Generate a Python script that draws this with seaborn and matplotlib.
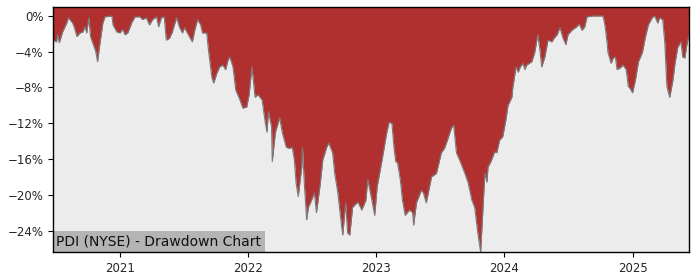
import matplotlib
matplotlib.use("Agg")
import matplotlib.pyplot as plt
import numpy as np
import pandas as pd
import seaborn as sns

dates = [
    "2020-06-24", "2020-07-04", "2020-07-07", "2020-07-12", "2020-07-21", "2020-08-02",
    "2020-08-07", "2020-08-19", "2020-08-24", "2020-08-31", "2020-09-09", "2020-09-17",
    "2020-09-23", "2020-09-28", "2020-10-04", "2020-10-09", "2020-10-15", "2020-10-24",
    "2020-10-29", "2020-11-05", "2020-11-13", "2020-11-19", "2020-12-09", "2020-12-12",
    "2020-12-23", "2021-01-01", "2021-01-09", "2021-01-15", "2021-01-23", "2021-02-04",
    "2021-02-13", "2021-02-27", "2021-03-06", "2021-03-17", "2021-03-26", "2021-04-04",
    "2021-04-15", "2021-04-21", "2021-04-29", "2021-05-07", "2021-05-13", "2021-05-22",
    "2021-05-30", "2021-06-11", "2021-06-20", "2021-06-28", "2021-07-04", "2021-07-12",
    "2021-07-26", "2021-08-02", "2021-08-10", "2021-08-19", "2021-08-24", "2021-09-05",
    "2021-09-11", "2021-09-20", "2021-09-25", "2021-10-04", "2021-10-12", "2021-10-21",
    "2021-10-29", "2021-11-05", "2021-11-10", "2021-11-19", "2021-11-27", "2021-12-09",
    "2021-12-17", "2021-12-28", "2022-01-04", "2022-01-12", "2022-01-21", "2022-01-29",
    "2022-02-10", "2022-02-19", "2022-02-24", "2022-02-28", "2022-03-09", "2022-03-11",
    "2022-03-20", "2022-04-01", "2022-04-09", "2022-04-20", "2022-04-29", "2022-05-07",
    "2022-05-13", "2022-05-18", "2022-05-24", "2022-06-03", "2022-06-05", "2022-06-11",
    "2022-06-17", "2022-06-22", "2022-07-01", "2022-07-09", "2022-07-15", "2022-07-26",
    "2022-08-02", "2022-08-13", "2022-08-19", "2022-08-30", "2022-09-05", "2022-09-14",
    "2022-09-25", "2022-09-28", "2022-10-06", "2022-10-12", "2022-10-18", "2022-10-26",
    "2022-11-10", "2022-11-21", "2022-12-03", "2022-12-08", "2022-12-20", "2022-12-28",
    "2023-01-04", "2023-01-18", "2023-01-31", "2023-02-07", "2023-02-15", "2023-02-21",
    "2023-02-26", "2023-03-03", "2023-03-11", "2023-03-17", "2023-03-25", "2023-04-06",
    "2023-04-15", "2023-04-18", "2023-04-26", "2023-05-10", "2023-05-16", "2023-05-24",
    "2023-06-08", "2023-06-22", "2023-07-06", "2023-07-15", "2023-07-23", "2023-08-04",
    "2023-08-10", "2023-08-18", "2023-08-30", "2023-09-11", "2023-09-20", "2023-10-01",
    "2023-10-09", "2023-10-18", "2023-10-26", "2023-11-01", "2023-11-07", "2023-11-13",
    "2023-11-16", "2023-11-24", "2023-12-05", "2023-12-11", "2023-12-19", "2023-12-28",
    "2024-01-06", "2024-01-12", "2024-01-23", "2024-01-26", "2024-02-04", "2024-02-10",
    "2024-02-16", "2024-02-24", "2024-02-29", "2024-03-05", "2024-03-20", "2024-03-28",
    "2024-04-06", "2024-04-12", "2024-04-17", "2024-04-26", "2024-05-05", "2024-05-16",
    "2024-05-22", "2024-05-31", "2024-06-08", "2024-06-17", "2024-06-25", "2024-07-01",
    "2024-07-12", "2024-07-26", "2024-08-02", "2024-08-10", "2024-08-18", "2024-08-24",
    "2024-09-11", "2024-10-09", "2024-10-15", "2024-10-21", "2024-10-23", "2024-11-01",
    "2024-11-07", "2024-11-13", "2024-11-18", "2024-11-27", "2024-12-05", "2024-12-14",
    "2024-12-20", "2024-12-25", "2025-01-01", "2025-01-09", "2025-01-18", "2025-01-29",
    "2025-02-07", "2025-02-15", "2025-02-26", "2025-03-05", "2025-03-14", "2025-03-19",
    "2025-03-28", "2025-04-03", "2025-04-09", "2025-04-17", "2025-04-26", "2025-05-02",
    "2025-05-10", "2025-05-19", "2025-05-24", "2025-05-30", "2025-06-05", "2025-06-11",
]

drawdown_pct = [
    -2.7, -2.9, -2.1, -3.0, -1.8, -0.8,
    -0.2, -0.8, -1.3, -2.3, -1.9, -1.8,
    -1.2, -1.9, -0.2, -2.3, -3.0, -4.0,
    -5.1, -3.0, -0.8, -0.1, 0.0, -1.0,
    -1.8, -1.9, -1.5, -2.1, -1.9, -0.7,
    -0.1, -0.1, -0.4, -0.2, -1.0, -0.4,
    -0.1, -1.2, -0.2, -0.1, -2.7, -2.5,
    -1.8, -0.2, -1.3, -1.9, -1.3, -1.9,
    -2.9, -1.6, -0.4, -1.0, -1.9, -1.9,
    -4.1, -6.9, -7.5, -6.4, -5.7, -5.5,
    -6.0, -4.9, -4.6, -5.7, -8.3, -9.4,
    -10.3, -10.2, -8.8, -5.7, -9.1, -8.8,
    -9.4, -11.9, -13.0, -10.7, -12.4, -16.3,
    -13.0, -11.4, -13.1, -14.7, -14.8, -14.7,
    -16.1, -18.7, -20.2, -16.9, -14.7, -19.1,
    -22.8, -21.4, -20.6, -19.8, -22.0, -18.7,
    -16.1, -14.7, -14.2, -15.3, -17.6, -19.8,
    -23.6, -24.5, -20.9, -24.3, -24.5, -21.4,
    -20.8, -21.7, -20.6, -18.3, -20.6, -22.3,
    -19.1, -16.1, -13.1, -11.9, -12.0, -14.7,
    -16.3, -16.4, -18.3, -20.6, -22.3, -21.7,
    -22.0, -23.4, -20.9, -19.5, -19.8, -20.9,
    -18.0, -17.6, -15.3, -14.8, -13.9, -12.5,
    -12.2, -15.3, -16.4, -17.6, -18.6, -20.6,
    -21.4, -24.3, -26.4, -22.0, -17.6, -18.6,
    -16.9, -16.3, -15.2, -15.3, -13.9, -13.5,
    -11.6, -10.0, -9.1, -7.9, -5.7, -6.3,
    -5.7, -5.3, -6.0, -5.5, -5.1, -4.1,
    -2.1, -3.8, -5.7, -4.6, -2.7, -2.9,
    -2.5, -2.1, -1.3, -2.5, -3.2, -2.1,
    -1.6, -1.2, -0.9, -1.6, -1.2, -0.1,
    0.0, 0.0, -1.2, -3.2, -4.1, -5.3,
    -4.7, -4.6, -6.0, -5.8, -5.5, -6.0,
    -7.9, -8.1, -8.6, -7.2, -5.1, -4.1,
    -2.3, -1.0, -0.2, 0.0, -0.8, -0.2,
    -0.4, -3.0, -7.9, -9.1, -7.2, -5.3,
    -3.5, -2.9, -4.6, -4.7, -3.2, -2.1,
]

year_ticks = ["2021", "2022", "2023", "2024", "2025"]
y_tick_values = [0, -4, -8, -12, -16, -20, -24]
label_text = "PDI (NYSE) - Drawdown Chart"
y_top = 1.0

df = pd.DataFrame({"date": pd.to_datetime(dates), "dd": drawdown_pct})

sns.set_style("ticks")
plt.rcParams["font.family"] = ["DejaVu Sans"]

fig = plt.figure(figsize=(7, 2.8), dpi=100)
ax = fig.add_axes([53 / 700, 1 - 252 / 280, (689 - 53) / 700, (252 - 7) / 280])
ax.set_facecolor("#ececec")

ax.fill_between(df["date"], df["dd"], y_top, color="#b03030", linewidth=0, zorder=2)
sns.lineplot(data=df, x="date", y="dd", ax=ax, color="#7a7a7a", linewidth=0.8, zorder=3)

ax.set_xlim(df["date"].iloc[0], df["date"].iloc[-1])
ax.set_ylim(min(drawdown_pct), y_top)

ax.set_xticks(pd.to_datetime([f"{y}-01-01" for y in year_ticks]))
ax.set_xticklabels(year_ticks)
ax.set_yticks(y_tick_values)
ax.set_yticklabels([("\u2212" if v < 0 else "") + f"{abs(v)}%" for v in y_tick_values])
ax.tick_params(labelsize=8.5, length=3.5, width=0.8, color="black")
ax.set_xlabel("")
ax.set_ylabel("")
for s in ax.spines.values():
    s.set_visible(True)
    s.set_color("black")
    s.set_linewidth(1.0)
    s.set_zorder(6)

ax.annotate(label_text, xy=(0.0, 0.0), xycoords="axes fraction",
            xytext=(2.5, 2.5), textcoords="offset points",
            ha="left", va="bottom", fontsize=10, color="#111111", zorder=5,
            bbox=dict(boxstyle="square,pad=0.25", facecolor="#b4b4b4", edgecolor="none"))

fig.savefig("out.png", dpi=100)
